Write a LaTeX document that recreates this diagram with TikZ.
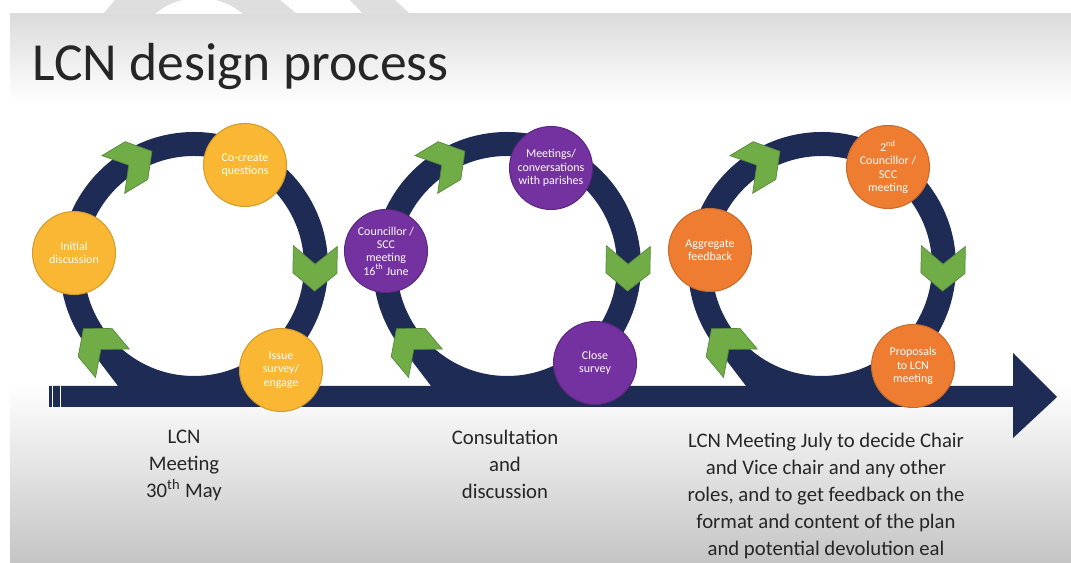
\documentclass[tikz,border=0pt]{standalone}
\usepackage{fontspec}
\setmainfont{Carlito}
\usepackage{xcolor}

\definecolor{navy}{HTML}{1E2B54}
\definecolor{chevgreen}{HTML}{70AD47}
\definecolor{chevedge}{HTML}{57883A}
\definecolor{nodeyellow}{HTML}{F9B733}
\definecolor{nodepurple}{HTML}{7432A0}
\definecolor{nodeorange}{HTML}{EE7D32}

% green chevron on a loop: centre x, angle round the loop, radius
\newcommand{\greenchev}[3]{%
  \filldraw[chev, shift={(#1,297)}, rotate=#2-90]
    (-22,#3+22) -- (5,#3+22) -- (23,#3) -- (5,#3-22) -- (-22,#3-22) -- (-4,#3) -- cycle;}

\begin{document}
\begin{tikzpicture}[x=0.02cm,y=0.02cm,
  ring/.style={draw=navy,line width=0.48cm},
  chev/.style={fill=chevgreen,draw=chevedge,line width=0.4pt},
  stage/.style={circle,minimum size=1.66cm,inner sep=0pt,text=white,align=center,
    font=\fontsize{6.8}{7.6}\selectfont,line width=0.6pt},
  yelstage/.style={stage,fill=nodeyellow,draw=nodeyellow!85!black},
  purstage/.style={stage,fill=nodepurple,draw=nodepurple!80!black},
  orastage/.style={stage,fill=nodeorange,draw=nodeorange!85!black},
  notetext/.style={align=center,inner sep=0pt,text=black!85,
    font=\fontsize{11.8}{15.3}\selectfont}]

\useasboundingbox (0,0) rectangle (1071,563);

% slide
\fill[white] (0,0) rectangle (1071,563);
\shade[top color=black!14,bottom color=white] (10,460) rectangle (1071,549);
\shade[top color=white,bottom color=black!23] (10,0) rectangle (1071,180);

% grey shapes above the slide
\fill[black!13] (115,563) -- (280,563) -- (297,549) -- (103,549) -- cycle;
\fill[black!13] (350,563) -- (395,563) -- (410,549) -- (363,549) -- cycle;
\begin{scope}
  \clip (0,549) rectangle (1071,563);
  \fill[white] (199,497) circle (68);
\end{scope}

\node[anchor=base west,inner sep=0pt,text=black!85,font=\fontsize{30.5}{37}\selectfont]
  (title) at (32,482) {LCN design process};

% time line
\fill[navy] (49,156) -- (1013,156) -- (1013,125) -- (1057,166) -- (1013,210)
  -- (1013,177) -- (49,177) -- cycle;
\draw[white,line width=0.9pt] (52.5,156) -- (52.5,177);
\draw[white,line width=0.9pt] (60.5,156) -- (60.5,177);

% the three loops
\foreach \cx in {194,507,822}{
  \draw[ring] (\cx,297) circle (122);
  \fill[navy] (\cx-95,202) -- (\cx-76,177) -- (\cx-44,177) -- cycle;
  \greenchev{\cx}{121}{120}
  \greenchev{\cx}{-1}{121}
  \greenchev{\cx}{220}{125}
}

\node[yelstage] (initial) at (74,310) {Initial\\discussion};
\node[yelstage] (cocreate) at (245,398) {Co-create\\questions};
\node[yelstage] (issue) at (281,193) {Issue\\survey/\\engage};

\node[purstage] (councillor) at (386,312) {Councillor /\\SCC\\meeting\\16\textsuperscript{th} June};
\node[purstage] (meetings) at (551,395) {Meetings/\\conversations\\with parishes};
\node[purstage] (close) at (595,200) {Close\\survey};

\node[orastage] (aggregate) at (710,313) {Aggregate\\feedback};
\node[orastage] (second) at (888,396) {2\textsuperscript{nd}\\Councillor /\\SCC\\meeting};
\node[orastage] (proposals) at (913,197) {Proposals\\to LCN\\meeting};

% text under the line
\node[notetext,anchor=north] (lcnmeet) at (184,133) {LCN\\Meeting\\30\textsuperscript{th} May};
\node[notetext,anchor=north] (consult) at (505,133) {Consultation\\and\\discussion};
\node[notetext,anchor=north] (julymeet) at (826,130) {LCN Meeting July to decide Chair\\
  and Vice chair and any other\\roles, and to get feedback on the\\
  format and content of the plan\\and potential devolution eal};

\end{tikzpicture}
\end{document}
